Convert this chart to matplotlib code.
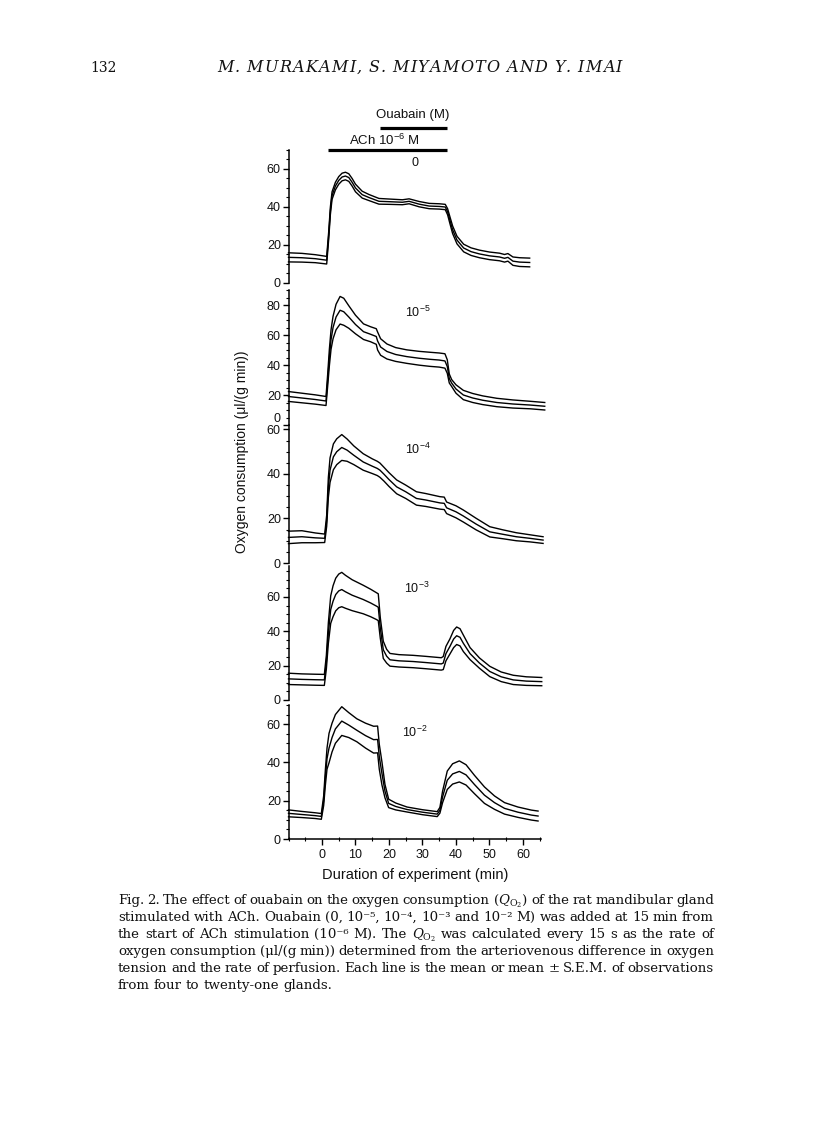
import numpy as np
import matplotlib.pyplot as plt
from matplotlib.ticker import MultipleLocator
from matplotlib.transforms import blended_transform_factory, ScaledTranslation

W, H = 816, 1141

# time (min) from start of ACh, mean and s.e.m. of Q_O2 (ul/(g min))
t0 = [-10, -6, -2, 1.4, 2.0, 2.5, 3.0, 4.0, 5.0, 6.0, 7.0, 8.0, 9.0, 10.0, 12.0, 14.0, 17.0, 20.0, 24.0, 26.0,
      29.0, 32.0, 35.0, 36.8, 37.5, 38.2, 39.0, 40.3, 42.3, 44.5, 47.0, 50.0, 53.0, 54.5, 55.5, 57.0, 59.0, 62.0]
m0 = [13.5, 13.3, 12.8, 12.0, 25.0, 38.0, 46.0, 51.0, 54.0, 55.8, 56.3, 55.5, 53.0, 50.0, 46.5, 45.0, 43.0, 42.8, 42.5, 43.0,
      41.5, 40.5, 40.3, 40.0, 37.5, 33.0, 28.0, 22.6, 18.4, 16.5, 15.3, 14.3, 13.7, 13.0, 13.5, 11.5, 11.0, 10.8]
s0 = [2.4, 2.3, 2.1, 2.0, 2.0, 2.0, 2.0, 2.0, 2.0, 2.0, 2.0, 2.0, 2.0, 2.0, 1.8, 1.6, 1.5, 1.4, 1.3, 1.3,
      1.4, 1.4, 1.4, 1.4, 1.6, 1.8, 2.0, 2.0, 2.0, 2.0, 2.0, 2.0, 2.0, 2.0, 2.0, 2.2, 2.3, 2.3]

t1 = [-10, -6, -2, 1.2, 1.7, 2.2, 2.7, 3.3, 4.2, 5.4, 6.5, 8.0, 10.0, 12.4, 14.5, 16.2, 16.6, 17.5, 19.4, 22.0,
      25.3, 29.0, 32.2, 35.0, 36.7, 37.4, 38.0, 38.7, 40.0, 42.2, 45.0, 48.0, 52.2, 57.0, 62.2, 66.5]
m1 = [19.0, 18.0, 17.0, 16.0, 30.0, 45.0, 57.0, 65.0, 72.0, 76.5, 75.5, 72.0, 67.0, 62.2, 60.5, 59.0, 56.0, 52.0, 49.0, 47.0,
      45.6, 44.5, 43.8, 43.3, 42.7, 39.0, 31.0, 28.0, 24.0, 20.0, 18.0, 16.5, 15.0, 14.0, 13.3, 12.5]
s1 = [3.3, 3.2, 3.1, 3.0, 4.0, 5.5, 6.5, 7.5, 8.5, 9.2, 9.0, 7.5, 6.2, 5.2, 5.0, 5.2, 6.0, 5.5, 5.0, 4.6,
      4.5, 4.6, 4.7, 4.7, 4.8, 4.5, 3.0, 2.3, 2.8, 3.1, 3.0, 2.9, 2.8, 2.7, 2.5, 2.5]

t2 = [-10, -6, -2, 0.8, 1.4, 1.9, 2.4, 3.4, 4.4, 5.9, 7.5, 9.5, 12.3, 15.0, 16.5, 17.3, 18.5, 20.0, 22.3, 25.0,
      28.2, 31.0, 35.2, 36.5, 37.2, 40.0, 42.2, 46.0, 50.1, 54.0, 58.0, 62.0, 66.0]
m2 = [11.5, 11.8, 11.3, 11.1, 19.0, 34.0, 41.7, 47.7, 50.0, 51.9, 50.7, 48.4, 45.4, 43.5, 42.5, 41.7, 39.9, 37.5, 34.2, 32.0,
      29.0, 28.3, 27.0, 26.8, 24.8, 23.0, 21.1, 17.5, 14.0, 12.9, 11.8, 11.1, 10.3]
s2 = [2.8, 2.7, 2.2, 1.9, 2.5, 4.5, 5.5, 5.8, 5.8, 5.8, 5.0, 4.2, 3.7, 3.3, 3.2, 3.2, 3.1, 3.1, 3.1, 3.0,
      3.0, 2.9, 2.8, 2.8, 2.6, 2.7, 2.7, 2.6, 2.3, 2.0, 1.8, 1.6, 1.5]

t3 = [-10, -6, -2, 0.7, 1.3, 1.9, 2.6, 3.3, 4.1, 5.0, 5.9, 7.0, 9.0, 12.3, 14.5, 16.3, 16.8, 17.4, 18.3, 19.3,
      20.3, 23.0, 27.2, 31.0, 35.6, 36.2, 37.0, 38.2, 39.3, 40.2, 41.2, 42.2, 44.2, 47.0, 50.1, 53.5, 57.1, 61.0, 65.6]
m3 = [12.3, 12.0, 11.8, 11.7, 22.0, 39.0, 52.6, 57.5, 61.4, 63.5, 64.3, 63.0, 61.0, 58.5, 56.5, 54.6, 54.0, 42.0, 29.2, 25.5,
      23.4, 22.8, 22.4, 21.8, 21.0, 21.5, 27.0, 31.2, 35.5, 37.4, 36.5, 33.0, 27.0, 21.5, 16.6, 13.5, 11.7, 11.0, 10.7]
s3 = [3.3, 3.2, 3.2, 3.2, 4.0, 6.0, 8.0, 9.0, 9.5, 9.8, 10.0, 9.6, 9.0, 8.3, 8.0, 7.8, 7.8, 6.0, 5.0, 4.0,
      3.7, 3.6, 3.6, 3.6, 3.6, 3.8, 4.2, 4.4, 5.0, 5.1, 5.0, 4.8, 3.5, 3.0, 3.0, 2.8, 2.7, 2.5, 2.4]

t4 = [-10, -6, -2, -0.2, 0.5, 1.0, 1.5, 2.1, 3.0, 4.0, 5.9, 8.0, 10.4, 13.0, 15.4, 16.6, 17.1, 17.9, 18.8, 19.9,
      22.0, 25.4, 30.0, 34.4, 35.2, 36.0, 37.4, 39.0, 41.0, 43.0, 45.5, 48.5, 51.5, 54.5, 58.5, 62.5, 64.5]
m4 = [13.4, 12.8, 12.2, 11.8, 20.0, 32.0, 42.0, 47.5, 53.0, 57.5, 61.6, 59.5, 56.8, 54.0, 51.9, 52.0, 43.0, 34.2, 25.0, 18.6,
      17.0, 15.4, 14.0, 13.0, 15.0, 22.0, 30.7, 34.0, 35.3, 33.5, 28.5, 22.9, 19.0, 16.0, 14.0, 12.5, 12.0]
s4 = [1.8, 1.6, 1.5, 1.5, 2.5, 4.0, 5.5, 7.7, 7.5, 7.5, 7.5, 6.5, 6.0, 6.5, 7.0, 7.0, 6.5, 6.0, 3.5, 2.2,
      1.8, 1.3, 1.3, 1.3, 1.5, 3.0, 4.8, 5.3, 5.5, 5.3, 4.8, 4.3, 3.5, 3.0, 2.7, 2.6, 2.6]

ouabain_labels = ['0', r'$\mathregular{10^{-5}}$', r'$\mathregular{10^{-4}}$',
                  r'$\mathregular{10^{-3}}$', r'$\mathregular{10^{-2}}$']
y_max = [70, 90, 62, 78, 70]
y_ticks = [[0, 20, 40, 60], [0, 20, 40, 60, 80], [0, 20, 40, 60], [0, 20, 40, 60], [0, 20, 40, 60]]
x_ticks = [0, 10, 20, 30, 40, 50, 60]
ach_on, ach_off, ouabain_on = 1.8, 37.3, 17.3

header = 'M. MURAKAMI, S. MIYAMOTO AND Y. IMAI'
caption = [
    r"Fig. 2. The effect of ouabain on the oxygen consumption ($\mathit{Q}_{\mathrm{O_2}}$) of the rat mandibular gland",
    "stimulated with ACh. Ouabain (0, 10⁻⁵, 10⁻⁴, 10⁻³ and 10⁻² M) was added at 15 min from",
    r"the start of ACh stimulation (10⁻⁶ M). The $\mathit{Q}_{\mathrm{O_2}}$ was calculated every 15 s as the rate of",
    "oxygen consumption (μl/(g min)) determined from the arteriovenous difference in oxygen",
    "tension and the rate of perfusion. Each line is the mean or mean ± S.E.M. of observations",
    "from four to twenty-one glands.",
]

plt.rcParams['font.family'] = ['Liberation Sans', 'DejaVu Sans']
plt.rcParams['mathtext.fontset'] = 'dejavuserif'
serif = ['DejaVu Serif']
ink = '#111111'

fig = plt.figure(figsize=(W / 100, H / 100), dpi=100)
renderer = fig.canvas.get_renderer()

# pixel placement of each panel: (zero line, top of axis, label position)
x_left, x_right = 288.5, 541.4
rows = [(283, 150, (415, 163)), (425, 290, (418, 312)), (563, 425, (418, 449)),
        (700, 566, (417, 588)), (839, 705, (415, 732))]
series = [(t0, m0, s0), (t1, m1, s1), (t2, m2, s2), (t3, m3, s3), (t4, m4, s4)]

axes = []
for i, ((t, m, s), (y0, y1, lab)) in enumerate(zip(series, rows)):
    ax = fig.add_axes([x_left / W, 1 - y0 / H, (x_right - x_left) / W, (y0 - y1) / H])
    t, m, s = np.array(t), np.array(m), np.array(s)
    for y in (m + s, m, m - s):
        ax.plot(t, y, color='k', lw=1.0, clip_on=False)
    ax.set_xlim(-10, 65.5)
    ax.set_ylim(0, y_max[i])
    ax.patch.set_alpha(0)
    for side in ['top', 'right', 'bottom']:
        ax.spines[side].set_visible(False)
    ax.spines['left'].set_linewidth(1.1)
    ax.set_yticks(y_ticks[i])
    ax.yaxis.set_minor_locator(MultipleLocator(5))
    ax.tick_params(axis='y', which='major', direction='out', length=4, width=1.0,
                   labelsize=9, pad=1.5, labelcolor=ink)
    ax.tick_params(axis='y', which='minor', direction='out', length=2, width=0.8)
    ax.set_xticks([])
    fig.text(lab[0] / W, 1 - lab[1] / H, ouabain_labels[i], ha='center', va='center',
             fontsize=9, color=ink)
    axes.append(ax)

# the zero of the second panel sits a little higher, clear of the 60 below it
lbl = axes[1].yaxis.get_major_ticks()[0].label1
lbl.set_transform(lbl.get_transform() + ScaledTranslation(0, 8 / 100, fig.dpi_scale_trans))

ax = axes[-1]
ax.spines['bottom'].set_visible(True)
ax.spines['bottom'].set_linewidth(1.1)
ax.set_xticks(x_ticks)
ax.xaxis.set_minor_locator(MultipleLocator(5))
ax.tick_params(axis='x', which='major', direction='out', length=4, width=1.0,
               labelsize=9, pad=3, labelcolor=ink)
ax.tick_params(axis='x', which='minor', direction='inout', length=2.5, width=0.8)

# stimulation bars above the top panel
top = axes[0]
tr = blended_transform_factory(top.transData, fig.transFigure)
top.plot([ach_on, ach_off], [1 - 150 / H] * 2, transform=tr, color='k', lw=2.3,
         solid_capstyle='butt', clip_on=False)
top.plot([ouabain_on, ach_off], [1 - 128 / H] * 2, transform=tr, color='k', lw=2.3,
         solid_capstyle='butt', clip_on=False)
fig.text(413 / W, 1 - 115 / H, 'Ouabain (M)', ha='center', va='center', fontsize=9.5, color=ink)
fig.text(384 / W, 1 - 140 / H, r'ACh $\mathregular{10^{-6}}$ M', ha='center', va='center',
         fontsize=9.5, color=ink)

fig.text(415 / W, 1 - 875 / H, 'Duration of experiment (min)', ha='center', va='center',
         fontsize=10.5, color=ink)
fig.text(242 / W, 1 - 452 / H, 'Oxygen consumption (μl/(g min))', ha='center', va='center',
         rotation=90, fontsize=10, color=ink)


def lay_out(items, x0, x1, y, gap=None, space=0.0, **kw):
    # place pieces of text side by side, spreading them to fill x0..x1
    objs, widths = [], []
    for s in items:
        if s == ' ':
            objs.append(None)
            widths.append(space)
            continue
        o = fig.text(0, 1 - y / H, s, va='baseline', color=ink, **kw)
        objs.append(o)
        widths.append(o.get_window_extent(renderer).width)
    if gap is None:
        gap = max((x1 - x0 - sum(widths)) / (len(items) - 1), 0.5)
    x = x0
    for o, w in zip(objs, widths):
        if o is not None:
            o.set_x(x / W)
        x += w + gap


# running head
fig.text(90 / W, 1 - 72 / H, '132', family=serif, fontsize=10, va='baseline', color=ink)
lay_out(list(header), 217, 622, 72, space=4.0, family=serif, style='italic', fontsize=11.5)

# justified caption
for i, line in enumerate(caption):
    y = 904 + 17 * i
    if i < len(caption) - 1:
        lay_out(line.split(' '), 118, 714, y, family=serif, fontsize=9.6)
    else:
        lay_out(line.split(' '), 118, 714, y, gap=4.0, family=serif, fontsize=9.6)

fig.savefig('out.png', dpi=100)
